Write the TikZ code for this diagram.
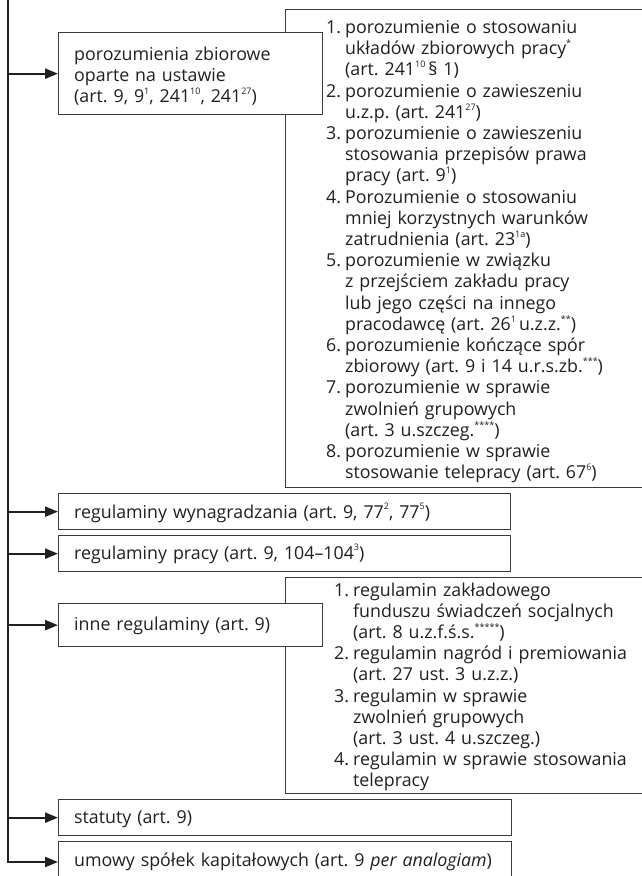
\documentclass[tikz,border=0pt]{standalone}
\usepackage{fontspec}
\setmainfont{Open Sans}
\usetikzlibrary{arrows.meta}
\definecolor{ink}{HTML}{231F20}
\definecolor{boxcol}{HTML}{3A3A3A}
\newcommand\su[1]{\raisebox{0.45em}{\fontsize{9}{9}\selectfont #1}}
\newcommand\nr[1]{\makebox[19pt][l]{#1}}
\newcommand\ind{\hspace*{19pt}}
\frenchspacing
\begin{document}
\begin{tikzpicture}[x=1pt,y=-1pt,
  box/.style={draw=boxcol, line width=1.3pt, fill=white, inner sep=0pt, anchor=north west},
  arr/.style={-{Triangle[length=13pt,width=10pt]}, line width=2.2pt, draw=ink, line join=miter},
  txt/.style={font=\fontsize{17.8}{21.2}\selectfont, text=ink, inner sep=0pt, anchor=base west, align=left, text width=600pt}]
\clip (0,0) rectangle (642,876);
\fill[white] (0,0) rectangle (642,876);
\coordinate (m) at (8,0);
% right-hand boxes (behind)
\node[box, minimum width=400pt, minimum height=478pt] (rb1) at (285,9) {};
\node[box, minimum width=400pt, minimum height=216pt] (rb2) at (285,577) {};
% left boxes
\node[box, minimum width=264pt, minimum height=82pt] (b1) at (58,32) {};
\node[box, minimum width=452pt, minimum height=36pt] (b2) at (58,493) {};
\node[box, minimum width=452pt, minimum height=36pt] (b3) at (58,535) {};
\node[box, minimum width=264pt, minimum height=43pt] (b4) at (58,603) {};
\node[box, minimum width=453pt, minimum height=36pt] (b5) at (58,799) {};
\node[box, minimum width=453pt, minimum height=60pt] (b6) at (58,841) {};
% texts
\node[txt] (t1) at (74,60) {porozumienia zbiorowe\\oparte na ustawie\\(art.~9, 9\su{1}, 241\su{10}, 241\su{27})};
\node[txt] (t2) at (74,518) {regulaminy wynagradzania (art.~9, 77\su{2}, 77\su{5})};
\node[txt] (t3) at (74,559) {regulaminy pracy (art.~9, 104--104\su{3})};
\node[txt] (t4) at (74,630.5) {inne regulaminy (art.~9)};
\node[txt] (t5) at (74,823) {statuty (art.~9)};
\node[txt] (t6) at (74,866) {umowy spółek kapitałowych (art.~9 \textit{per analogiam})};
\node[txt] (l1) at (326,33.5) {%
\nr{1.}porozumienie o stosowaniu\\
\ind układów zbiorowych pracy\su{*}\\
\ind(art.~241\su{10}\,§~1)\\
\nr{2.}porozumienie o zawieszeniu\\
\ind u.z.p. (art.~241\su{27})\\
\nr{3.}porozumienie o zawieszeniu\\
\ind stosowania przepisów prawa\\
\ind pracy (art.~9\su{1})\\
\nr{4.}Porozumienie o stosowaniu\\
\ind mniej korzystnych warunków\\
\ind zatrudnienia (art.~23\su{1a})\\
\nr{5.}porozumienie w związku\\
\ind z przejściem zakładu pracy\\
\ind lub jego części na innego\\
\ind pracodawcę (art.~26\su{1}\,u.z.z.\su{**})\\
\nr{6.}porozumienie kończące spór\\
\ind zbiorowy (art.~9 i 14 u.r.s.zb.\su{***})\\
\nr{7.}porozumienie w sprawie\\
\ind zwolnień grupowych\\
\ind(art.~3 u.szczeg.\su{****})\\
\nr{8.}porozumienie w sprawie\\
\ind stosowanie telepracy (art.~67\su{6})};
\node[txt] (l2) at (334,596) {%
\nr{1.}regulamin zakładowego\\
\ind funduszu świadczeń socjalnych\\
\ind(art.~8 u.z.f.ś.s.\su{*****})\\
\nr{2.}regulamin nagród i premiowania\\
\ind(art.~27 ust.~3 u.z.z.)\\
\nr{3.}regulamin w sprawie\\
\ind zwolnień grupowych\\
\ind(art.~3 ust.~4 u.szczeg.)\\
\nr{4.}regulamin w sprawie stosowania\\
\ind telepracy};
% connectors
\coordinate (c6) at (8,862);
\draw[arr] (m) -- (c6) -- (c6 -| b6.west);
\draw[arr] (b1.west -| m) -- (b1.west);
\draw[arr] (b2.west -| m) -- (b2.west);
\draw[arr] (b3.west -| m) -- (b3.west);
\draw[arr] (b4.west -| m) -- (b4.west);
\draw[arr] (b5.west -| m) -- (b5.west);
\end{tikzpicture}
\end{document}
